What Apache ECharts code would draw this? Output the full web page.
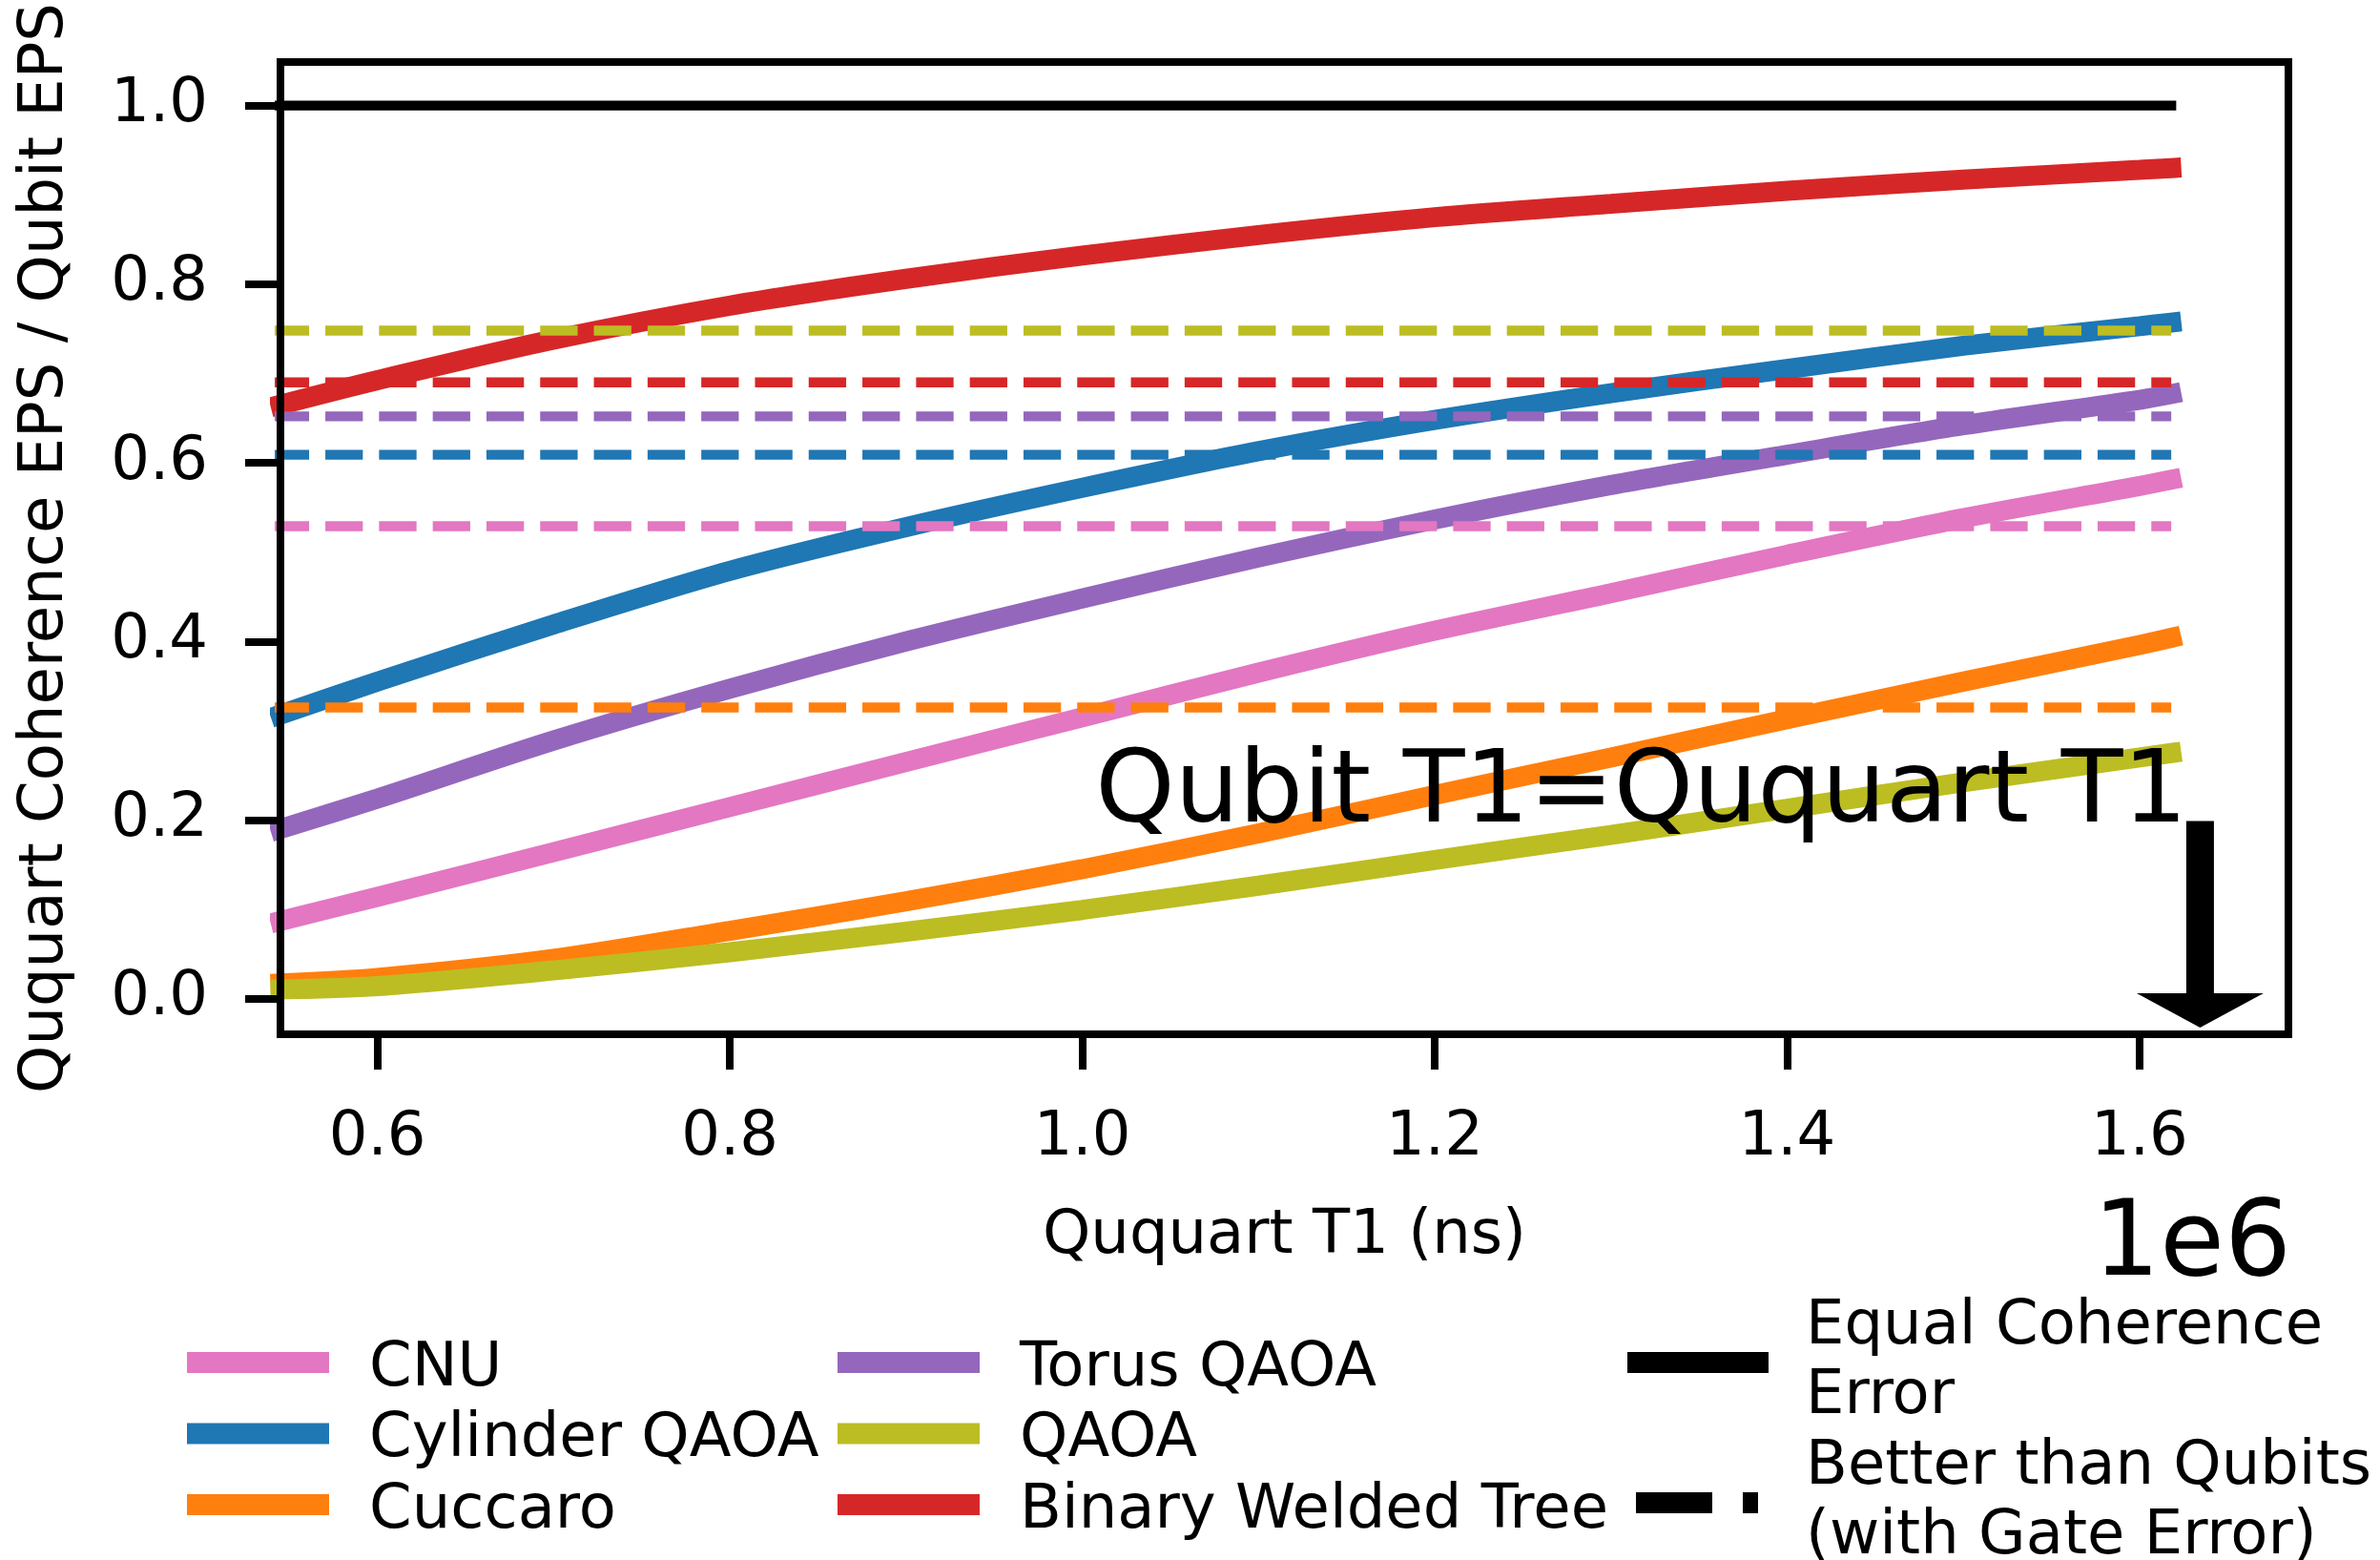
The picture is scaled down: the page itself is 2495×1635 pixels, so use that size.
<!DOCTYPE html>
<html><head><meta charset="utf-8">
<script src="https://cdn.jsdelivr.net/npm/echarts@6/dist/echarts.min.js"></script>
<style>html,body{margin:0;padding:0;background:#fff}#c{width:2495px;height:1635px}</style>
</head><body><div id="c"></div>
<script>
// ---- data (x in ns) ----
const xValues = [545000, 600000, 700000, 800000, 900000, 1000000, 1100000, 1200000, 1300000, 1400000, 1500000, 1600000, 1618000];
const cnu      = [0.087, 0.114, 0.164, 0.2145, 0.265, 0.315, 0.365, 0.412, 0.454, 0.497, 0.538, 0.574, 0.581];
const cylinder = [0.318, 0.355, 0.419, 0.479, 0.528, 0.572, 0.613, 0.648, 0.678, 0.705, 0.731, 0.753, 0.757];
const cuccaro  = [0.017, 0.0233, 0.0446, 0.076, 0.109, 0.145, 0.185, 0.228, 0.270, 0.313, 0.355, 0.396, 0.404];
const torus    = [0.190, 0.224, 0.289, 0.347, 0.400, 0.448, 0.494, 0.5365, 0.575, 0.609, 0.642, 0.6705, 0.677];
const qaoa     = [0.0102, 0.014, 0.0316, 0.052, 0.075, 0.0993, 0.1265, 0.1553, 0.1833, 0.2126, 0.2422, 0.270, 0.275];
const bwt      = [0.665, 0.6925, 0.738, 0.776, 0.806, 0.832, 0.855, 0.875, 0.890, 0.9045, 0.917, 0.928, 0.930];
// "better than qubits (with gate error)" thresholds
const gateCnu = 0.529, gateCylinder = 0.609, gateCuccaro = 0.326, gateTorus = 0.652, gateQaoa = 0.748, gateBwt = 0.690;
const flatX = [540000, 1618000];
const equalValue = 1.0;
const xTicks = [600000, 800000, 1000000, 1200000, 1400000, 1600000];
const yTicks = [0, 0.2, 0.4, 0.6, 0.8, 1.0];
const arrowX = 1634370, arrowFrom = 0.199, arrowTo = -0.0324;

const FONT = 'DejaVu Sans';
const FS = 64;
const C = {cnu:'#e377c2', cyl:'#1f77b4', cuc:'#ff7f0e', tor:'#9467bd', qa:'#bcbd22', bwt:'#d62728'};

function zip(xs, ys){ return xs.map((x,i)=>[x, ys[i]]); }
function solid(name, arr, color){
  return {name, type:'line', data: zip(xValues, arr), symbol:'none', showSymbol:false, smooth:0.3,
    lineStyle:{width:21, color, cap:'square'}, itemStyle:{color}, z:2, silent:true};
}
function dashed(name, v, color){
  return {name, type:'line', data: flatX.map(x=>[x, v]), symbol:'none', showSymbol:false,
    lineStyle:{width:10.4, color, type:[39.3,17], cap:'butt'}, itemStyle:{color}, z:3, silent:true};
}
const rectIcon = 'path://M0,0H149V22H0Z M186,36';
const blackIcon = 'path://M0,0H148V22H0Z M182,0';
const dashIcon = 'path://M9,0H89V22H9Z M121,0H137V22H121Z M182,0 M0,0';
const legendText = {fontSize:FS, fontFamily:FONT, color:'#000'};
const col3Names = {'Equal Coherence Error':'Equal Coherence\nError','Better than Qubits (with Gate Error)':'Better than Qubits\n(with Gate Error)'};

const chart = echarts.init(document.getElementById('c'), null, {renderer:'canvas'});
chart.setOption({
  animation:false,
  backgroundColor:'#fff',
  grid:{left:294, right:96, top:63.5, bottom:551, show:true, borderColor:'#000', borderWidth:8, containLabel:false},
  xAxis:{type:'value', min:545000, max:1684500, z:10,
    axisLine:{show:true, onZero:false, lineStyle:{color:'#000', width:8}},
    axisTick:{show:true, length:37, lineStyle:{color:'#000', width:8}, customValues:xTicks},
    axisLabel:{customValues:xTicks, margin:77, fontSize:FS, fontFamily:FONT, color:'#000',
      formatter:v=>(v/1e6).toFixed(1)},
    splitLine:{show:false},
    name:'Ququart T1 (ns)', nameLocation:'middle', nameGap:180,
    nameTextStyle:{fontSize:FS, fontFamily:FONT, color:'#000'}},
  yAxis:{type:'value', min:-0.0399, max:1.0488, z:10,
    axisLine:{show:true, onZero:false, lineStyle:{color:'#000', width:8}},
    axisTick:{show:true, length:37, lineStyle:{color:'#000', width:8}, customValues:yTicks},
    axisLabel:{customValues:yTicks, margin:76, fontSize:FS, fontFamily:FONT, color:'#000',
      padding:[8,0,0,0], formatter:v=>v.toFixed(1)},
    splitLine:{show:false},
    name:'Ququart Coherence EPS / Qubit EPS', nameLocation:'middle', nameGap:214, nameRotate:90,
    nameTextStyle:{fontSize:FS, fontFamily:FONT, color:'#000'}},
  legend:[
    {orient:'vertical', left:196, top:1397.75, padding:0, itemGap:0, itemWidth:186, itemHeight:36, selectedMode:false,
      textStyle:Object.assign({lineHeight:74.5}, legendText),
      data:[{name:'CNU', icon:rectIcon, itemStyle:{color:C.cnu, borderWidth:0}},
            {name:'Cylinder QAOA', icon:rectIcon, itemStyle:{color:C.cyl, borderWidth:0}},
            {name:'Cuccaro', icon:rectIcon, itemStyle:{color:C.cuc, borderWidth:0}}]},
    {orient:'vertical', left:878, top:1397.75, padding:0, itemGap:0, itemWidth:186, itemHeight:36, selectedMode:false,
      textStyle:Object.assign({lineHeight:74.5}, legendText),
      data:[{name:'Torus QAOA', icon:rectIcon, itemStyle:{color:C.tor, borderWidth:0}},
            {name:'QAOA', icon:rectIcon, itemStyle:{color:C.qa, borderWidth:0}},
            {name:'Binary Welded Tree', icon:rectIcon, itemStyle:{color:C.bwt, borderWidth:0}}]},
    {orient:'vertical', left:1706, top:1355, padding:0, itemGap:0, itemWidth:182, itemHeight:22, selectedMode:false,
      textStyle:Object.assign({lineHeight:73}, legendText),
      formatter:n=>col3Names[n]||n,
      data:[{name:'Equal Coherence Error', icon:blackIcon, itemStyle:{color:'#000', borderWidth:0}}]},
    {orient:'vertical', left:1706, top:1502, padding:0, itemGap:0, itemWidth:182, itemHeight:22, selectedMode:false,
      textStyle:Object.assign({lineHeight:73}, legendText),
      formatter:n=>col3Names[n]||n,
      data:[{name:'Better than Qubits (with Gate Error)', icon:dashIcon, itemStyle:{color:'#000', borderWidth:0}}]}
  ],
  graphic:[
    {type:'text', right:2495-2402, top:1252, z:20, silent:true,
      style:{text:'1e6', font:'110px "DejaVu Sans"', fill:'#000', textAlign:'right', textVerticalAlign:'middle'}},
  ],
  series:[
    {name:'Equal Coherence Error', type:'line', data: flatX.map(x=>[x, equalValue]), symbol:'none', showSymbol:false,
      lineStyle:{width:10.4, color:'#000', cap:'square'}, itemStyle:{color:'#000'}, z:2, silent:true},
    solid('CNU', cnu, C.cnu),
    solid('Cylinder QAOA', cylinder, C.cyl),
    solid('Cuccaro', cuccaro, C.cuc),
    solid('Torus QAOA', torus, C.tor),
    solid('QAOA', qaoa, C.qa),
    solid('Binary Welded Tree', bwt, C.bwt),
    dashed('CNU gate', gateCnu, C.cnu),
    dashed('Cylinder QAOA gate', gateCylinder, C.cyl),
    dashed('Cuccaro gate', gateCuccaro, C.cuc),
    dashed('Torus QAOA gate', gateTorus, C.tor),
    dashed('QAOA gate', gateQaoa, C.qa),
    dashed('Binary Welded Tree gate', gateBwt, C.bwt),
    {name:'Better than Qubits (with Gate Error)', type:'line', data:[], symbol:'none', lineStyle:{color:'#000', type:'dashed'}, itemStyle:{color:'#000'}},
    {name:'arrow', type:'custom', z:5, silent:true, clip:false,
      data:[[arrowX, arrowFrom, arrowTo]],
      renderItem:function(params, api){
        const p0 = api.coord([api.value(0), api.value(1)]);
        const p1 = api.coord([api.value(0), api.value(2)]);
        const cx = p0[0], hs = 14.5, hh = 66.5, hl = 36;
        return {type:'group', children:[
          {type:'polygon', shape:{points:[[cx-hs,p0[1]],[cx+hs,p0[1]],[cx+hs,p1[1]-hl],[cx+hh,p1[1]-hl],[cx,p1[1]],[cx-hh,p1[1]-hl],[cx-hs,p1[1]-hl]]},
            style:{fill:'#000'}},
          {type:'text', x:cx-13.5, y:p0[1]-27, style:{text:'Qubit T1=Ququart T1', font:'106px "DejaVu Sans"', fill:'#000', align:'right', verticalAlign:'middle'}}
        ]};
      }}
  ]
});
</script></body></html>
